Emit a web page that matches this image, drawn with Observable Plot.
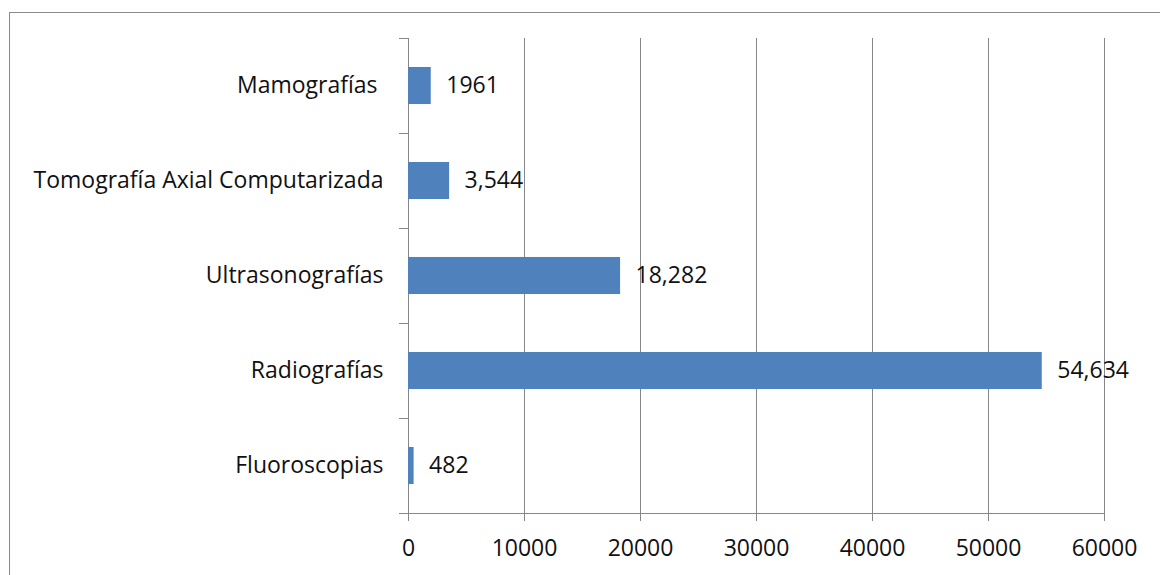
<!DOCTYPE html>
<html>
<head>
<meta charset="utf-8">
<script src="https://cdn.jsdelivr.net/npm/d3@7"></script>
<script src="https://cdn.jsdelivr.net/npm/@observablehq/plot@0.6"></script>
<style>
  body { margin: 0; background: #fff; }
  #chart { position: relative; width: 1160px; height: 575px; overflow: hidden; }
  #chart .border {
    position: absolute; left: 9px; top: 12px; width: 1200px; height: 600px;
    border: 1px solid #8a8a8a; pointer-events: none;
  }
  #chart svg { position: absolute; left: 0; top: 0; }
</style>
</head>
<body>
<div id="chart"><div class="border"></div></div>
<script>
// Estudios de imagen por tipo
const categories = [
  "Mamografías\u00a0",
  "Tomografía Axial Computarizada",
  "Ultrasonografías",
  "Radiografías",
  "Fluoroscopias"
];
const values = [1961, 3544, 18282, 54634, 482];
const valueLabels = ["1961", "3,544", "18,282", "54,634", "482"];
const xTicks = [0, 10000, 20000, 30000, 40000, 50000, 60000];

const rows = categories.map((c, i) => ({
  category: c, index: i, value: values[i], label: valueLabels[i]
}));
// category slot boundaries (ticks sit between categories)
const slots = d3.range(categories.length + 1);
const centers = rows.map(r => r.index + 0.5);

const gray = "#878787";
const ink = "#111";
const fs = 23;

const chart = Plot.plot({
  width: 1160,
  height: 575,
  marginLeft: 408,
  marginRight: 56,
  marginTop: 38,
  marginBottom: 62,
  style: { fontFamily: "'Open Sans', sans-serif", fontSize: fs + "px", color: ink, background: "transparent" },
  x: { type: "linear", domain: [0, 60000] },
  y: { type: "linear", domain: [0, categories.length], reverse: true },
  marks: [
    Plot.gridX(xTicks, { stroke: gray, strokeOpacity: 1 }),
    Plot.axisX(xTicks, {
      tickSize: 8, tickPadding: 18, stroke: gray, fill: ink,
      fontSize: fs, tickFormat: d => String(d), label: null
    }),
    Plot.axisY(slots, { tickSize: 9, stroke: gray, tickFormat: () => "", label: null }),
    Plot.axisY(centers, {
      tickSize: 0, tickPadding: 25, fill: ink, fontSize: fs,
      tickFormat: d => categories[Math.floor(d)], label: null
    }),
    Plot.ruleX([0], { stroke: gray }),
    Plot.ruleY([categories.length], { stroke: gray }),
    // horizontal bars, each occupying the middle of its category slot
    Plot.rect(rows, {
      x1: () => 0,
      x2: "value",
      y1: d => d.index + 0.305,
      y2: d => d.index + 0.695,
      fill: "#4F81BD"
    }),
    Plot.text(rows, {
      x: "value", y: d => d.index + 0.5, text: "label",
      dx: 15, textAnchor: "start", fill: ink, fontSize: fs
    })
  ]
});

document.getElementById("chart").appendChild(chart);
</script>
</body>
</html>
